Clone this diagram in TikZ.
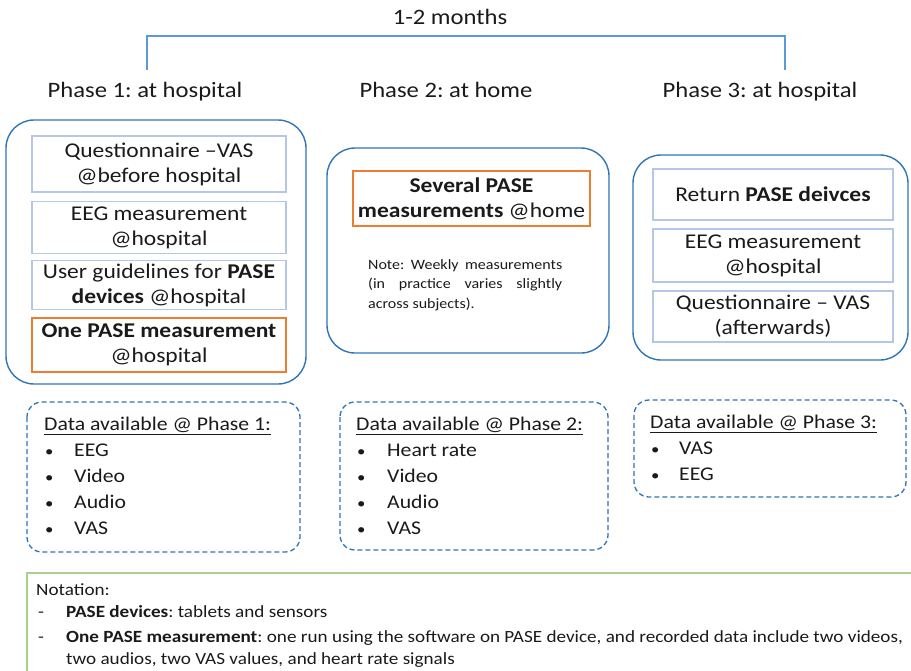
\documentclass[tikz,border=0pt]{standalone}
\usepackage{fontspec}
\setmainfont{Carlito}[FakeStretch=1.12]
\usetikzlibrary{positioning}
\definecolor{frameblue}{HTML}{2E75B6}
\definecolor{lineblue}{HTML}{5B9BD5}
\definecolor{paleblue}{HTML}{B4C7E7}
\definecolor{keyorange}{HTML}{ED7D31}
\definecolor{notegreen}{HTML}{A9D18E}
\definecolor{inktext}{HTML}{1A1A1A}
\frenchspacing
\newcommand\dotitem[1]{\makebox[#1][l]{\hspace{1pt}\fontsize{15}{15}\selectfont•}}

\begin{document}
\begin{tikzpicture}[x=1pt,y=-1pt,text=inktext,
phasebox/.style={draw=frameblue,line width=1.4pt,rounded corners=28pt},
itembox/.style={draw=paleblue,line width=1.4pt,align=center,inner sep=0pt,font=\fontsize{21}{25}\selectfont},
keybox/.style={itembox,draw=keyorange},
databox/.style={draw=frameblue,dash pattern=on 5pt off 3pt,line width=1.3pt,rounded corners=15pt},
datalist/.style={align=left,inner sep=0pt,anchor=north west,font=\fontsize{19.4}{26}\selectfont}]
\useasboundingbox(0,0)rectangle(911,670);
\coordinate(B1)at(147,70);
\coordinate(B2)at(785,70);
\node[font=\fontsize{22}{24}\selectfont](span)at(450,17){1-2 months};
\draw[lineblue,line width=2.6pt](B1)--++(0,-34)-|(B2);
\begin{scope}[every node/.style={font=\fontsize{22}{24}\selectfont,anchor=base}]
\node(ph1)at(145,97){Phase 1: at hospital};
\node(ph2)at(446,97){Phase 2: at home};
\node(ph3)at(760,97){Phase 3: at hospital};
\end{scope}
\draw[phasebox](6,120)rectangle(306,384);
\draw[phasebox](327,148)rectangle(609,353);
\draw[phasebox](633,155)rectangle(908,360);
\node[itembox,minimum width=254pt,minimum height=56pt](qa)at(159,164){Questionnaire –VAS\\@before hospital};
\node[itembox,minimum width=254pt,minimum height=52pt](eega)at(159,227.5){EEG measurement\\@hospital};
\node[itembox,minimum width=254pt,minimum height=49pt](guide)at(159,285){User guidelines for \textbf{PASE}\\\textbf{devices} @hospital};
\node[keybox,minimum width=254pt,minimum height=54pt](onem)at(159,345){\textbf{One PASE measurement}\\@hospital};
\node[keybox,minimum width=237pt,minimum height=55pt](several)at(471.5,198.5){\textbf{Several PASE}\\\textbf{measurements} @home};
\node[align=left,inner sep=0pt,anchor=north west,font=\fontsize{14.3}{19.5}\selectfont](weekly)at(368,259){\makebox[194pt][s]{Note: Weekly measurements}\\\makebox[194pt][s]{(in practice varies slightly}\\across subjects).};
\node[itembox,minimum width=240pt,minimum height=51pt](ret)at(773,194.5){Return \textbf{PASE deivces}};
\node[itembox,minimum width=240pt,minimum height=53pt](eegc)at(773,255.5){EEG measurement\\@hospital};
\node[itembox,minimum width=240pt,minimum height=51pt](qc)at(773,316.5){Questionnaire – VAS\\(afterwards)};
\draw[databox](27,402)rectangle(300,552);
\draw[databox](340,402)rectangle(608,550);
\draw[databox](634,400)rectangle(906,497);
\node[datalist](dataa)at(44,417){\underline{Data available @ Phase 1:}\\\dotitem{30pt}EEG\\\dotitem{30pt}Video\\\dotitem{30pt}Audio\\\dotitem{30pt}VAS};
\node[datalist](datab)at(356,417){\underline{Data available @ Phase 2:}\\\dotitem{31pt}Heart rate\\\dotitem{31pt}Video\\\dotitem{31pt}Audio\\\dotitem{31pt}VAS};
\node[datalist](datac)at(650,415){\underline{Data available @ Phase 3:}\\\dotitem{29pt}VAS\\\dotitem{29pt}EEG};
\draw[notegreen,line width=1.2pt](915,573)-|(27,675);
\node[align=left,inner sep=0pt,anchor=north west,font=\fontsize{17.1}{22}\selectfont](notation)at(36,583){Notation:\\\makebox[30pt][l]{\hspace{2pt}-}\textbf{PASE devices}: tablets and sensors\\[3pt]\makebox[30pt][l]{\hspace{2pt}-}\textbf{One PASE measurement}: one run using the software on PASE device, and recorded data include two videos,\\\hspace*{30pt}two audios, two VAS values, and heart rate signals};
\end{tikzpicture}
\end{document}
